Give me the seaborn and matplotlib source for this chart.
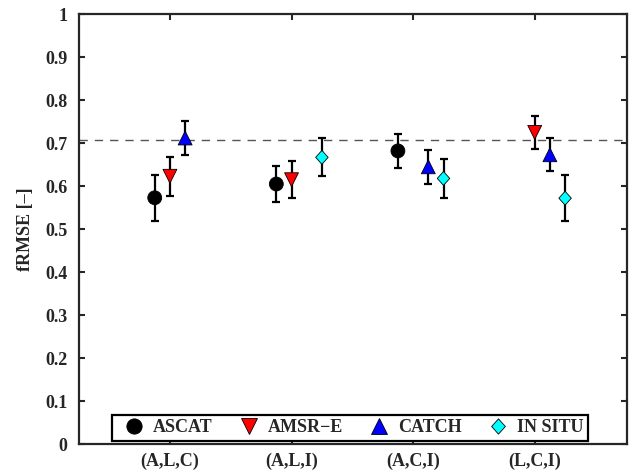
import matplotlib
matplotlib.use('Agg')
import matplotlib.pyplot as plt
from matplotlib.path import Path
import numpy as np
import pandas as pd
import seaborn as sns

groups = ['(A,L,C)', '(A,L,I)', '(A,C,I)', '(L,C,I)']
series = ['ASCAT', 'AMSR\u2212E', 'CATCH', 'IN SITU']

# fRMSE per group, one list per series (nan = not in that triplet)
ascat = [0.573, 0.605, 0.682, np.nan]
amsre = [0.623, 0.615, np.nan, 0.725]
catch = [0.712, np.nan, 0.645, 0.673]
insitu = [np.nan, 0.667, 0.618, 0.572]

ascat_err = [0.053, 0.043, 0.039, np.nan]
amsre_err = [0.045, 0.043, np.nan, 0.038]
catch_err = [0.040, np.nan, 0.040, 0.038]
insitu_err = [np.nan, 0.044, 0.045, 0.054]

ref_line = 1 / np.sqrt(2)

colors = ['#000000', '#ff0000', '#0000ff', '#00ffff']
diamond = Path([(0, 1), (0.9, 0), (0, -1), (-0.9, 0), (0, 1)],
               [Path.MOVETO, Path.LINETO, Path.LINETO, Path.LINETO, Path.CLOSEPOLY])
markers = ['o', 'v', '^', diamond]
offsets = [-0.125, 0.0, 0.125, 0.25]

rows = []
for name, vals, errs, off in zip(series, [ascat, amsre, catch, insitu],
                                 [ascat_err, amsre_err, catch_err, insitu_err], offsets):
    for i, (v, e) in enumerate(zip(vals, errs)):
        if not np.isnan(v):
            rows.append({'x': i + 1 + off, 'fRMSE': v, 'err': e, 'source': name})
df = pd.DataFrame(rows)

sns.set_style('ticks')
plt.rcParams['font.family'] = ['Liberation Serif', 'DejaVu Serif']
plt.rcParams['font.weight'] = 'bold'

fig = plt.figure(figsize=(6.35, 4.72), dpi=100)
ax = fig.add_axes([0.124, 0.059, 0.863, 0.911])

ax.axhline(ref_line, color='#555555', linestyle=(0, (6, 5)), linewidth=1, zorder=1)

ax.errorbar(df['x'], df['fRMSE'], yerr=df['err'], fmt='none', ecolor='black',
            elinewidth=1.6, capsize=3.2, capthick=1.6, zorder=2)

sns.scatterplot(data=df, x='x', y='fRMSE', hue='source', style='source',
                hue_order=series, style_order=series,
                palette=dict(zip(series, colors)), markers=dict(zip(series, markers)),
                s=100, edgecolor='black', linewidth=0.6, zorder=3, ax=ax)

ax.set_xlim(0.25, 4.757)
ax.set_ylim(0, 1)
ax.set_xticks(range(1, len(groups) + 1))
ax.set_xticklabels(groups)
ax.set_yticks(np.arange(0, 1.01, 0.1))
ax.set_yticklabels(['0'] + [f'{v:.1f}' for v in np.arange(0.1, 0.95, 0.1)] + ['1'])
ax.set_xlabel('')
ax.set_ylabel('fRMSE [\u2013]', fontsize=13, fontweight='bold')
ax.yaxis.set_label_coords(-0.081, 0.5)

ax.tick_params(direction='in', length=4, width=1.5, labelsize=13,
               top=True, right=True)
ax.tick_params(axis='y', pad=8)
ax.tick_params(axis='x', pad=6)
for lab in ax.get_xticklabels() + ax.get_yticklabels():
    lab.set_fontweight('bold')
for sp in ax.spines.values():
    sp.set_linewidth(1.6)

sns.move_legend(ax, 'lower center', ncol=4, title=None, frameon=True,
                fancybox=False, edgecolor='black', framealpha=1,
                fontsize=13, handletextpad=0.05, columnspacing=1.0,
                borderpad=0.25, borderaxespad=0.2, markerscale=1.1,
                bbox_to_anchor=(0.495, 0.0))
leg = ax.get_legend()
leg.get_frame().set_linewidth(1.6)
for t in leg.get_texts():
    t.set_fontweight('bold')

fig.savefig('out.png', dpi=100)
